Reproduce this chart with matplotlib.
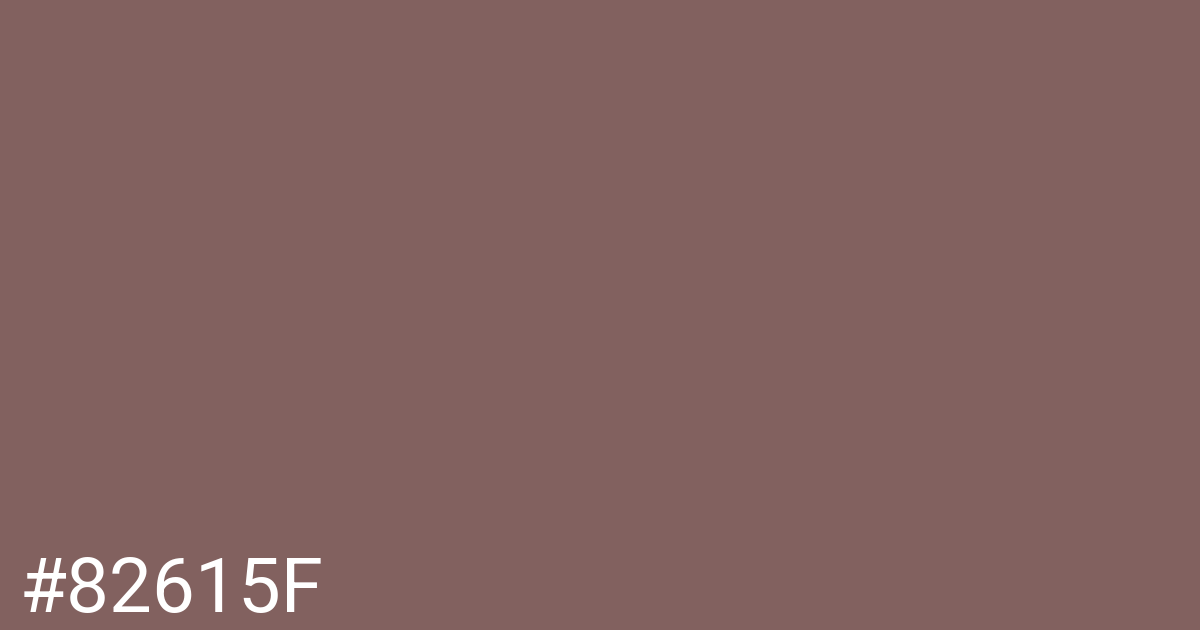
import matplotlib
matplotlib.use("Agg")
import matplotlib.pyplot as plt

bg_color = "#82615F"
label = "#82615F"

W, H, DPI = 1200, 630, 100
fig = plt.figure(figsize=(W / DPI, H / DPI), dpi=DPI, facecolor=bg_color)
fig.text(20 / W, 18 / H, label, color="white", fontsize=55,
         family=["Roboto", "DejaVu Sans"], ha="left", va="baseline")
fig.savefig("out.png", dpi=DPI, facecolor=bg_color)
